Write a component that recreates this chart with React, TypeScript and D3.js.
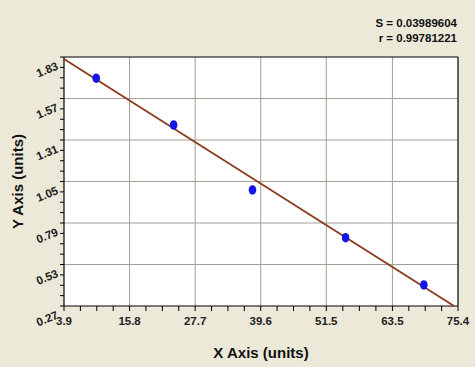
import React from "react";
import * as d3 from "d3";

const xTicks = [3.9, 15.8, 27.7, 39.6, 51.5, 63.5, 75.4];
const yTicks = [0.27, 0.53, 0.79, 1.05, 1.31, 1.57, 1.83];
const pointX = [9.75, 23.8, 38.1, 55.0, 69.2];
const pointY = [1.697, 1.404, 0.997, 0.698, 0.402];
const fitSlope = -0.02186;
const fitIntercept = 1.9025;
const statLines = ["S = 0.03989604", "r = 0.99781221"];
const xTitle = "X Axis (units)";
const yTitle = "Y Axis (units)";

const W = 475, H = 367;
const L = 64, R = 458, T = 57, B = 306;

export default function App() {
  const x = d3.scaleLinear().domain([3.9, 75.4]).range([L, R]);
  const y = d3.scaleLinear().domain([0.27, 1.83]).range([B, T]);

  const xMinor: number[] = [];
  for (let i = 0; i < xTicks.length - 1; i++) {
    for (let k = 0; k < 4; k++) xMinor.push(xTicks[i] + ((xTicks[i + 1] - xTicks[i]) * k) / 4);
  }
  xMinor.push(xTicks[xTicks.length - 1]);
  const yMinor: number[] = [];
  for (let i = 0; i < yTicks.length - 1; i++) {
    for (let k = 0; k < 4; k++) yMinor.push(yTicks[i] + ((yTicks[i + 1] - yTicks[i]) * k) / 4);
  }
  yMinor.push(yTicks[yTicks.length - 1]);

  const x0 = 3.9;
  let x1 = 75.4;
  const yAtX1 = fitSlope * x1 + fitIntercept;
  if (yAtX1 < 0.27) x1 = (0.27 - fitIntercept) / fitSlope;
  const fitData: [number, number][] = [
    [x0, fitSlope * x0 + fitIntercept],
    [x1, fitSlope * x1 + fitIntercept],
  ];
  const line = d3
    .line<[number, number]>()
    .x((d) => x(d[0]))
    .y((d) => y(d[1]));

  const font = "Arial, 'Liberation Sans', sans-serif";

  return (
    <svg
      width={W}
      height={H}
      style={{ position: "absolute", left: 0, top: 0, display: "block" }}
      fontFamily={font}
    >
      <rect x={0} y={0} width={W} height={H} fill="#ECE9D8" />
      <rect x={L} y={T} width={R - L} height={B - T} fill="#FFFFFF" />
      {xTicks.slice(1, -1).map((t) => (
        <line key={"gx" + t} x1={x(t)} x2={x(t)} y1={T} y2={B} stroke="#A39F94" strokeWidth={1} />
      ))}
      {yTicks.slice(1, -1).map((t) => (
        <line key={"gy" + t} x1={L} x2={R} y1={y(t)} y2={y(t)} stroke="#A39F94" strokeWidth={1} />
      ))}
      <line x1={L} x2={R} y1={T} y2={T} stroke="#000" strokeWidth={1.2} />
      <line x1={R} x2={R} y1={T} y2={B} stroke="#000" strokeWidth={1.2} />
      <line x1={L} x2={L} y1={T} y2={B} stroke="#000" strokeWidth={1.2} />
      <line x1={L} x2={R} y1={B} y2={B} stroke="#000" strokeWidth={1.2} />
      {xMinor.map((t, i) => (
        <line key={"xt" + i} x1={x(t)} x2={x(t)} y1={B} y2={B + 5} stroke="#000" strokeWidth={1} />
      ))}
      {yMinor.map((t, i) => (
        <line key={"yt" + i} x1={L - 4} x2={L} y1={y(t)} y2={y(t)} stroke="#000" strokeWidth={1} />
      ))}
      <path d={line(fitData) || ""} stroke="#8B3A1E" strokeWidth={1.8} fill="none" />
      {pointX.map((px, i) => (
        <ellipse key={"p" + i} cx={x(px)} cy={y(pointY[i])} rx={3.8} ry={4.8} fill="#1414E6" />
      ))}
      {xTicks.map((t) => (
        <text
          key={"xl" + t}
          x={x(t)}
          y={325}
          textAnchor="middle"
          fontSize={11.5}
          fontWeight="bold"
          fill="#222"
        >
          {t.toFixed(1)}
        </text>
      ))}
      {yTicks.map((t) => (
        <text
          key={"yl" + t}
          transform={`translate(${L - 5},${y(t) + 12}) rotate(-22)`}
          textAnchor="end"
          fontSize={11.5}
          fontWeight="bold"
          fill="#222"
        >
          {t.toFixed(2)}
        </text>
      ))}
      <text x={261} y={358} textAnchor="middle" fontSize={15} fontWeight="bold" fill="#111">
        {xTitle}
      </text>
      <text
        transform={`translate(23,${(T + B) / 2}) rotate(-90)`}
        textAnchor="middle"
        fontSize={15}
        fontWeight="bold"
        fill="#111"
      >
        {yTitle}
      </text>
      {statLines.map((s, i) => (
        <text key={"s" + i} x={457} y={27 + i * 15} textAnchor="end" fontSize={11.5} fontWeight="bold" fill="#111">
          {s}
        </text>
      ))}
    </svg>
  );
}
